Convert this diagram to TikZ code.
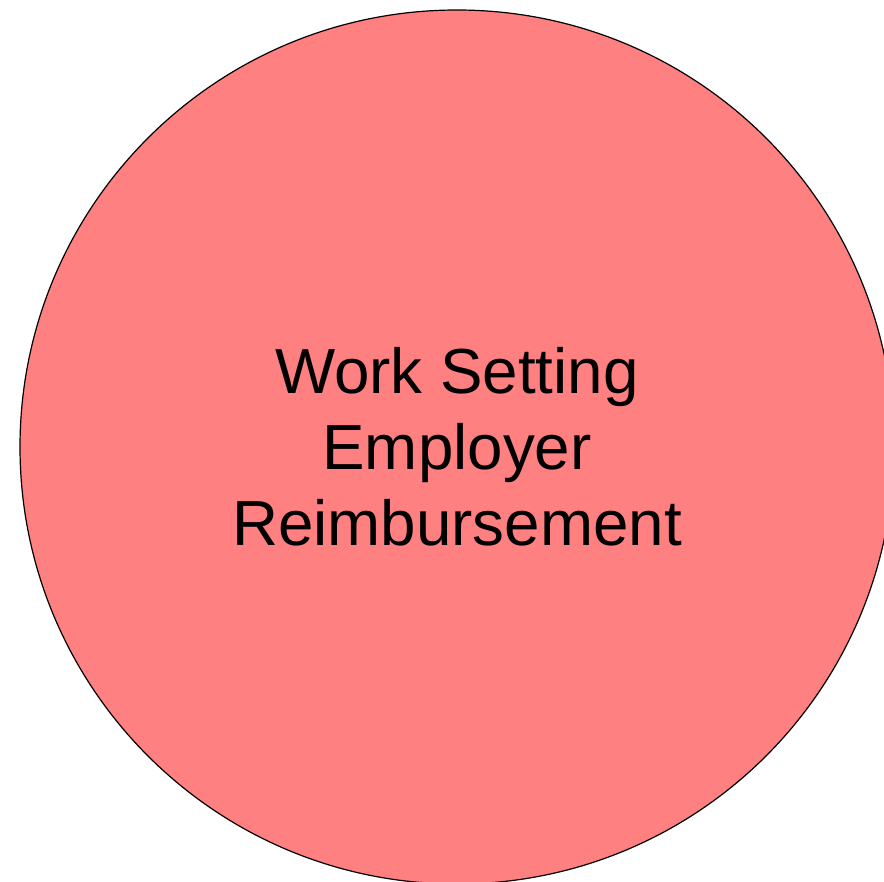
\documentclass[tikz,border=0pt]{standalone}
\usepackage{fontspec}
\setmainfont{Liberation Sans}
\usetikzlibrary{positioning}
\definecolor{salmon}{HTML}{FF8080}
\tikzset {
  % big filled circle holding the label
  area node/.style = {
    draw = black,
    fill = salmon,
    circle,
    line width = 1.2pt,
    minimum size = 874pt,
    inner sep = 0,
    align = center,
    font = \fontsize{63.7pt}{76pt}\selectfont
  }
}

\begin{document}
\begin{tikzpicture}[x=1pt, y=-1pt]
    \useasboundingbox (0,0) rectangle (884,882);

    \coordinate (mid) at (457,447);

    \node[area node] (work) at (mid)
      {Work Setting\\Employer\\Reimbursement};
  \end{tikzpicture}
\end{document}
